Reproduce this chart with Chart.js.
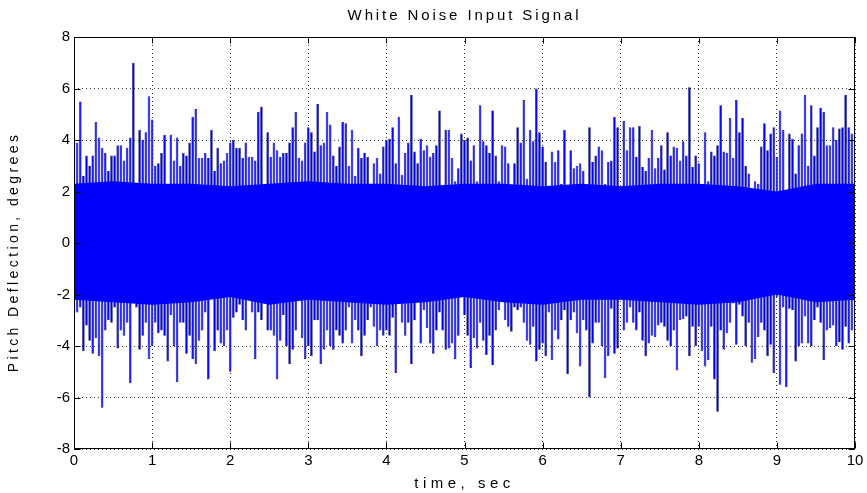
<!DOCTYPE html>
<html>
<head>
<meta charset="utf-8">
<title>White Noise Input Signal</title>
<script src="https://cdn.jsdelivr.net/npm/chart.js@4.4.1/dist/chart.umd.min.js"></script>
<style>
  html, body { margin: 0; padding: 0; background: #fff; }
  #wrap { width: 867px; height: 493px; }
</style>
</head>
<body>
<div id="wrap"><canvas id="noiseChart" width="867" height="493"></canvas></div>
<script>
// envelope of the pitch signal, one bin every 0.04 s from 0 to 10 s
const sampleStep = 0.04;

const upperEnvelope = [
  3.9, 3.9, 5.5, 2.6, 3.4, 3.0, 3.4, 4.7, 4.1, 3.7, 3.5, 2.8, 3.4, 3.4, 3.8, 3.8, 3.2, 3.7, 4.1, 7.0, 2.2,
  4.4, 4.0, 4.3, 5.7, 4.8, 3.0, 3.1, 3.5, 4.2, 1.7, 4.2, 3.2, 4.1, 3.0, 3.5, 3.4, 3.9, 4.9, 5.2, 3.3, 3.3,
  3.5, 3.3, 4.4, 2.8, 3.7, 3.1, 3.2, 3.5, 3.9, 4.0, 3.7, 3.7, 3.3, 3.9, 3.35, 3.35, 3.2, 5.1, 5.3, 2.3, 4.3,
  3.35, 3.9, 3.6, 3.35, 3.5, 3.5, 3.9, 4.5, 5.1, 3.3, 3.2, 3.9, 4.5, 4.3, 3.55, 5.4, 3.8, 3.9, 5.1, 4.6, 3.4,
  3.0, 3.75, 4.7, 4.65, 3.0, 4.4, 2.6, 3.7, 3.3, 3.5, 3.35, 2.3, 3.1, 3.3, 2.7, 3.75, 4.0, 4.05, 4.5, 3.1,
  4.9, 2.65, 3.5, 3.9, 5.75, 3.55, 3.1, 4.05, 3.6, 3.8, 3.35, 3.5, 3.8, 5.15, 2.2, 4.4, 4.4, 3.3, 2.4, 2.9,
  4.25, 4.0,
  4.1, 3.2, 3.8, 2.4, 5.35, 3.95, 3.8, 3.5, 5.15, 3.4, 2.4, 3.8, 3.75, 3.1, 2.25, 3.1, 4.5, 3.9, 5.55, 2.5,
  4.4, 3.95, 6.0, 4.3, 3.75, 3.15, 2.2, 3.55, 3.15, 3.6, 2.3, 4.4, 1.8, 3.6, 2.9, 3.0, 3.1, 2.8, 2.25, 4.5,
  3.15,
  3.4, 3.75, 3.6, 2.3, 3.15, 3.2, 4.9, 4.5, 1.7, 4.75, 3.6, 4.5, 4.5, 3.35, 4.55, 2.95, 2.8, 3.3, 4.4, 2.9,
  3.3, 3.8, 2.85, 4.3, 3.4, 3.75, 3.7, 3.2, 3.95, 3.4, 6.05, 2.95, 3.4, 3.1, 1.95, 4.3, 2.4, 3.55, 3.4, 3.8,
  5.35, 3.55,
  3.5, 4.85, 3.3, 5.55, 4.3, 4.85, 3.0, 2.7, 2.0, 2.4, 2.3, 3.75, 4.65, 3.6, 4.25, 4.5, 3.35, 5.15, 4.4, 1.6,
  4.25, 4.05, 2.7, 3.8, 4.25, 5.75, 3.0, 5.35, 3.4, 4.5, 5.25, 5.1, 3.8, 3.8, 4.5, 4.0, 4.45, 4.5, 5.75, 4.5,
  4.25, 2.8
];

const lowerEnvelope = [
  -2.7, -2.7, -2.5, -4.2, -3.2, -3.8, -4.3, -3.7, -4.4, -6.4, -3.4, -3.0, -3.1, -2.5, -4.1, -3.4, -3.6, -3.1,
  -5.45, -2.0, -2.5, -4.15, -3.6, -3.1, -4.5, -4.0, -3.1, -3.5, -3.4, -3.6, -4.6, -2.8, -4.0, -5.4, -3.1, -3.1,
  -4.3, -3.6, -4.5, -4.7, -3.8, -3.4,
  -2.7, -5.3, -2.0, -4.2, -3.4, -3.9, -4.0, -3.4, -5.0, -2.9, -2.7, -2.4, -3.0, -3.4, -2.2, -2.7, -4.5, -2.7,
  -3.0, -2.1, -3.4, -3.4, -3.6, -5.3, -3.8, -2.8, -4.0, -4.7, -4.15, -3.4, -1.5, -3.7, -4.5, -4.0, -4.4, -3.0,
  -3.0, -4.7, -4.15, -3.4, -4.0, -4.15,
  -3.4, -3.6, -3.9, -3.4, -2.5, -3.9, -3.0, -3.4, -4.4, -3.6, -3.0, -2.5, -3.25, -4.0, -3.4, -3.6, -3.4, -3.6,
  -2.9, -5.05, -2.3, -3.1, -3.6, -3.1, -4.7, -3.0, -2.3, -3.9, -2.6, -3.3, -3.9, -4.3, -3.4, -2.7, -3.4, -4.15,
  -4.1, -3.9, -4.5, -3.6, -1.7, -2.8,
  -3.6, -4.85, -3.7, -4.1, -3.1, -3.8, -4.35, -3.6, -4.75, -3.4, -2.6, -2.15, -3.0, -3.25, -3.45, -2.5, -2.6,
  -2.5, -3.1, -3.8, -3.95, -3.25, -4.6, -4.15, -3.9, -4.4, -2.7, -4.55, -3.4, -3.75, -3.0, -2.6, -5.1, -3.0,
  -2.7, -3.5, -4.8, -3.0, -3.4, -6.0, -3.9,
  -3.1, -3.1, -4.0, -5.25, -4.4, -2.55, -4.3, -4.1, -2.2, -3.4, -3.1, -2.5, -3.1, -3.4, -2.7, -3.8, -4.4, -3.9,
  -3.6, -3.65, -3.2, -3.1, -3.25, -3.8, -4.0, -3.4, -4.95, -3.0, -2.95, -2.85, -4.4, -3.25, -4.0, -3.25, -4.2,
  -4.8, -4.55, -3.25, -5.3, -6.55, -3.4, -4.15,
  -3.5, -3.1, -2.35, -3.95, -2.4, -2.85, -4.0, -3.1, -4.65, -4.5, -3.65, -3.1, -3.4, -4.4, -3.95, -5.05, -2.1,
  -5.5, -2.5, -5.6, -2.55, -2.6, -4.6, -4.0, -3.9, -2.85, -3.9, -4.0, -3.0, -2.5, -3.1, -4.55, -3.4, -3.3, -3.2,
  -4.0, -3.85, -4.15, -3.25, -3.9, -3.4, -2.3
];

// solid body of the trace (where the samples overlap completely)
const coreTimes = [0, 0.5, 1, 1.5, 2, 2.5, 3, 3.5, 4, 4.5, 5, 5.5, 6, 6.5, 7, 7.5, 8, 8.5, 9, 9.5, 10];
const coreTop = [2.3, 2.4, 2.3, 2.3, 2.2, 2.3, 2.4, 2.3, 2.3, 2.2, 2.3, 2.3, 2.2, 2.3, 2.2, 2.3, 2.3, 2.2, 2.0, 2.3, 2.3];
const coreBottom = [-2.2, -2.3, -2.4, -2.3, -2.1, -2.4, -2.2, -2.3, -2.4, -2.3, -2.1, -2.3, -2.4, -2.2, -2.2, -2.3, -2.4, -2.3, -2.0, -2.3, -2.2];

const xTicks = [0, 1, 2, 3, 4, 5, 6, 7, 8, 9, 10];
const yTicks = [-8, -6, -4, -2, 0, 2, 4, 6, 8];

const FONT = "'Liberation Sans', Arial, Helvetica, sans-serif";
const TRACE = 'rgb(0, 0, 250)';

const spikeData = upperEnvelope.map((hi, i) => ({ x: i * sampleStep, y: [lowerEnvelope[i], hi] }));
const coreTopData = coreTimes.map((t, i) => ({ x: t, y: coreTop[i] }));
const coreBottomData = coreTimes.map((t, i) => ({ x: t, y: coreBottom[i] }));

function spacedText(ctx, text, x, y, spacing) {
  ctx.letterSpacing = spacing + 'px';
  ctx.fillText(text, x, y);
  ctx.letterSpacing = '0px';
}

// box, inward tick marks and the labels in the old plotting style
const matlabFrame = {
  id: 'matlabFrame',
  afterDatasetsDraw(chart) {
    const { ctx, chartArea: a, scales } = chart;
    const L = a.left + 0.5, R = a.right - 0.5, T = a.top + 0.5, B = a.bottom - 0.5;
    ctx.save();
    ctx.strokeStyle = '#000';
    ctx.lineWidth = 1;
    ctx.beginPath();
    ctx.rect(L, T, R - L, B - T);
    xTicks.forEach(v => {
      const px = Math.round(scales.x.getPixelForValue(v)) + 0.5;
      ctx.moveTo(px, B); ctx.lineTo(px, B - 6);
      ctx.moveTo(px, T); ctx.lineTo(px, T + 6);
    });
    yTicks.forEach(v => {
      const py = Math.round(scales.y.getPixelForValue(v)) + 0.5;
      ctx.moveTo(L, py); ctx.lineTo(L + 6, py);
      ctx.moveTo(R, py); ctx.lineTo(R - 6, py);
    });
    ctx.stroke();
    ctx.restore();
  },
  afterDraw(chart) {
    const { ctx, chartArea: a } = chart;
    const cx = (a.left + a.right) / 2;
    ctx.save();
    ctx.fillStyle = '#000';
    ctx.textAlign = 'center';
    ctx.textBaseline = 'alphabetic';
    ctx.font = '15px ' + FONT;
    spacedText(ctx, 'White Noise Input Signal', cx, 20, 2.9);
    spacedText(ctx, 'time, sec', cx, 488, 4.5);
    ctx.translate(18, (a.top + a.bottom) / 2 + 9);
    ctx.rotate(-Math.PI / 2);
    ctx.font = '14px ' + FONT;
    spacedText(ctx, 'Pitch Deflection, degrees', 0, 0, 3.4);
    ctx.restore();
  }
};

new Chart(document.getElementById('noiseChart'), {
  type: 'bar',
  data: {
    datasets: [
      {
        type: 'line',
        data: coreTopData,
        borderWidth: 0,
        pointRadius: 0,
        backgroundColor: TRACE,
        fill: '+1',
        order: 0
      },
      {
        type: 'line',
        data: coreBottomData,
        borderWidth: 0,
        pointRadius: 0,
        fill: false,
        order: 0
      },
      {
        type: 'bar',
        data: spikeData,
        backgroundColor: TRACE,
        borderColor: '#1c1c80',
        borderWidth: 0.7,
        borderSkipped: 'start',
        inflateAmount: 0,
        barPercentage: 0.85,
        categoryPercentage: 1,
        order: 1
      }
    ]
  },
  options: {
    responsive: false,
    animation: false,
    devicePixelRatio: 1,
    layout: { padding: { top: 37, right: 12, left: 0, bottom: 0 } },
    plugins: {
      legend: { display: false },
      tooltip: { enabled: false },
      title: { display: false }
    },
    scales: {
      x: {
        type: 'linear',
        min: 0,
        max: 10,
        offset: false,
        afterFit: s => { s.height = 44; },
        afterBuildTicks: s => { s.ticks = xTicks.map(v => ({ value: v })); },
        ticks: { color: '#000', padding: 3, maxRotation: 0, font: { family: FONT, size: 15 } },
        grid: { offset: false, color: 'rgba(0,0,0,0.8)', lineWidth: 1, drawTicks: false },
        border: { display: false, dash: [1, 3] }
      },
      y: {
        min: -8,
        max: 8,
        afterFit: s => { s.width = 74; },
        afterBuildTicks: s => { s.ticks = yTicks.map(v => ({ value: v })); },
        ticks: { color: '#000', padding: 4, font: { family: FONT, size: 15 } },
        grid: { color: 'rgba(0,0,0,0.8)', lineWidth: 1, drawTicks: false },
        border: { display: false, dash: [1, 3] }
      }
    }
  },
  plugins: [matlabFrame]
});
</script>
</body>
</html>
